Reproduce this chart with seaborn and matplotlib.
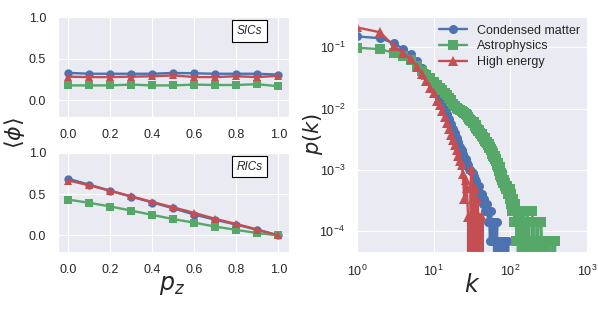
import numpy as np
import pandas as pd
import seaborn as sns
import matplotlib
matplotlib.use("Agg")
import matplotlib.pyplot as plt

# left panels: <phi> vs p_z
pz = [0.0, 0.1, 0.2, 0.3, 0.4, 0.5, 0.6, 0.7, 0.8, 0.9, 1.0]
sics_cm = [0.33, 0.32, 0.32, 0.32, 0.32, 0.33, 0.325, 0.32, 0.32, 0.32, 0.31]
sics_ap = [0.18, 0.18, 0.18, 0.19, 0.18, 0.18, 0.19, 0.185, 0.185, 0.195, 0.17]
sics_he = [0.285, 0.28, 0.28, 0.285, 0.29, 0.30, 0.28, 0.28, 0.29, 0.28, 0.295]
rics_cm = [0.685, 0.614, 0.54, 0.468, 0.398, 0.327, 0.252, 0.189, 0.13, 0.067, 0.0]
rics_ap = [0.433, 0.394, 0.35, 0.30, 0.248, 0.197, 0.154, 0.106, 0.067, 0.028, 0.0]
rics_he = [0.665, 0.606, 0.54, 0.472, 0.405, 0.339, 0.272, 0.20, 0.138, 0.071, 0.0]

# right panel: degree distributions
k_cm = list(range(1, 95))
p_cm = [0.15, 0.14, 0.117, 0.093, 0.077, 0.059, 0.046, 0.038, 0.029, 0.024,
        0.019, 0.0155, 0.0125, 0.0100, 0.0082, 0.0068, 0.0056, 0.0047, 0.0040, 0.0033,
        0.0028, 0.0024, 0.0021, 0.0018, 0.0016, 0.0015, 0.0013, 0.0012, 0.00105, 0.0010,
        0.00095, 0.00088, 0.00080, 0.00072, 0.00066, 0.00062, 0.00055, 0.00048, 0.00055, 0.00041,
        0.00041, 0.00034, 0.00041, 0.00028, 0.00034, 0.00028, 0.00021, 0.00028, 0.00028, 0.00021,
        0.00014, 0.00021, 0.00014, 0.000069, 0.00014, 0.00021, 0.000069, 0.00014, 0.000069, 0.00014,
        0.000069, 0.0, 0.00014, 0.000069, 0.0, 0.000069, 0.00014, 0.0, 0.000069, 0.0,
        0.000069, 0.0, 0.0, 0.000069, 0.0, 0.000069, 0.0, 0.0, 0.000069, 0.0,
        0.0, 0.0, 0.000069, 0.0, 0.0, 0.0, 0.0, 0.000069, 0.0, 0.0,
        0.0, 0.0, 0.000069, 0.0]

k_ap = list(range(1, 126)) + [127, 130, 131, 133, 135, 136, 138, 140, 141, 144, 146, 147,
                              150, 152, 153, 156, 158, 160, 161, 165, 167, 170, 172, 175,
                              176, 180, 183, 185, 190, 192, 195, 198, 200, 205, 210, 215,
                              220, 222, 225, 230, 236, 240, 245, 250, 255, 260, 268, 275,
                              280, 290, 300, 310, 320, 335, 350, 365, 380, 400]
p_ap = [0.098, 0.093, 0.081, 0.071, 0.061, 0.050, 0.041, 0.035, 0.032, 0.027,
        0.024, 0.022, 0.020, 0.018, 0.0165, 0.015, 0.0137, 0.012, 0.011, 0.0101,
        0.0098, 0.0094, 0.0090, 0.0088, 0.0085, 0.0080, 0.0078, 0.0072, 0.0068, 0.0066,
        0.0062, 0.0058, 0.0060, 0.0052, 0.0054, 0.0048, 0.0046, 0.0043, 0.0045, 0.0040,
        0.0038, 0.0036, 0.0039, 0.0034, 0.0032, 0.0033, 0.0030, 0.0028, 0.0029, 0.0027,
        0.0025, 0.0026, 0.0023, 0.0024, 0.0021, 0.0022, 0.0020, 0.0018, 0.0019, 0.0017,
        0.0016, 0.0017, 0.0015, 0.0014, 0.0015, 0.0013, 0.0012, 0.0013, 0.0011, 0.0010,
        0.00097, 0.0011, 0.00090, 0.00083, 0.00090, 0.00076, 0.00083, 0.00069, 0.00062, 0.00069,
        0.00069, 0.00062, 0.00069, 0.00062, 0.00055, 0.00062, 0.00055, 0.00048, 0.00055, 0.00048,
        0.00055, 0.00048, 0.00041, 0.00048, 0.00041, 0.00048, 0.00041, 0.00034, 0.00041, 0.00048,
        0.00034, 0.00041, 0.00028, 0.00034, 0.00028, 0.00021, 0.00028, 0.00034, 0.00021, 0.00028,
        0.00021, 0.00014, 0.00021, 0.00028, 0.00014, 0.00021, 0.00014, 0.00021, 0.000069, 0.00014,
        0.00021, 0.00014, 0.000069, 0.00014, 0.0,
        0.00014, 0.00021, 0.0, 0.000069, 0.00014, 0.0, 0.00021, 0.000069, 0.0, 0.00014, 0.000069,
        0.0, 0.00021, 0.00014, 0.0, 0.000069, 0.00014, 0.0, 0.000069, 0.0, 0.00021,
        0.000069, 0.0, 0.00014, 0.0, 0.000069, 0.0, 0.000069, 0.0, 0.00021, 0.0,
        0.000069, 0.00014, 0.0, 0.000069, 0.0, 0.00014, 0.0, 0.000069, 0.00014, 0.0,
        0.000069, 0.0, 0.00014, 0.000069, 0.0, 0.000069, 0.0, 0.000069, 0.0, 0.000069,
        0.0, 0.000069, 0.0, 0.000069, 0.0, 0.000069, 0.0]

k_he = list(range(1, 45))
p_he = [0.21, 0.175, 0.105, 0.08, 0.064, 0.048, 0.036, 0.028, 0.022, 0.018,
        0.0135, 0.0115, 0.0090, 0.0072, 0.0058, 0.0046, 0.0037, 0.0031, 0.0025, 0.0021,
        0.0017, 0.0014, 0.0012, 0.00085, 0.00034, 0.00068, 0.00051, 0.00017, 0.0, 0.00051,
        0.00102, 0.00034, 0.0, 0.00051, 0.00017, 0.0, 0.00034, 0.00017, 0.0, 0.00017,
        0.0, 0.0, 0.00017, 0.0]

names = ["Condensed matter", "Astrophysics", "High energy"]
colors = ["#4C72B0", "#55A868", "#C44E52"]
markers = ["o", "s", "^"]

sns.set_style("darkgrid")
plt.rcParams['font.family'] = ['Liberation Sans', 'DejaVu Sans']
plt.rcParams['xtick.labelsize'] = 9
plt.rcParams['ytick.labelsize'] = 9

fig = plt.figure(figsize=(5.98, 3.28), dpi=100)
ax1 = fig.add_axes([0.097, 0.643, 0.386, 0.305])
ax2 = fig.add_axes([0.097, 0.232, 0.386, 0.302])
ax3 = fig.add_axes([0.597, 0.232, 0.385, 0.716])

for ax, ys, tag in [(ax1, [sics_cm, sics_ap, sics_he], "SICs"),
                    (ax2, [rics_cm, rics_ap, rics_he], "RICs")]:
    for y, c, m in zip(ys, colors, markers):
        sns.lineplot(x=pz, y=y, ax=ax, color=c, marker=m, markersize=6,
                     markeredgewidth=0, linewidth=1.7, estimator=None, errorbar=None)
    ax.set_ylim(-0.2, 1.0)
    ax.set_yticks([0.0, 0.5, 1.0])
    ax.set_xticks([0.0, 0.2, 0.4, 0.6, 0.8, 1.0])
    ax.set_xticklabels(["0.0", "0.2", "0.4", "0.6", "0.8", "1.0"])
    ax.set_yticklabels(["0.0", "0.5", "1.0"])
    ax.tick_params(pad=5)
    ax.text(0.83, 0.86, tag, transform=ax.transAxes, fontsize=8.5, fontstyle='italic',
            ha='center', va='center',
            bbox=dict(facecolor='white', edgecolor='black', linewidth=0.8,
                      boxstyle='square,pad=0.4'))

for k, p, name, c, m in zip([k_cm, k_ap, k_he], [p_cm, p_ap, p_he], names, colors, markers):
    sns.lineplot(x=k, y=p, ax=ax3, color=c, marker=m, markersize=6.5,
                 markeredgewidth=0, linewidth=1.7, estimator=None, errorbar=None,
                 label=name, sort=False)
ax3.set_xscale('log')
ax3.set_yscale('log')
ax3.set_xlim(1, 1000)
ax3.set_ylim(4.6e-5, 0.31)
ax3.minorticks_off()
ax3.tick_params(pad=5)
ax3.legend(loc='upper right', frameon=False, fontsize=9, handlelength=2.2,
           borderaxespad=0.2, labelspacing=0.3)

fig.text(0.025, 0.595, r'$\langle \phi \rangle$', rotation=90, fontsize=16, ha='center', va='center')
fig.text(0.288, 0.13, r'$p_z$', fontsize=17, ha='center', va='center')
fig.text(0.523, 0.59, r'$p(k)$', rotation=90, fontsize=15, ha='center', va='center')
fig.text(0.789, 0.13, r'$k$', fontsize=17, ha='center', va='center')

fig.savefig("out.png", dpi=100)
